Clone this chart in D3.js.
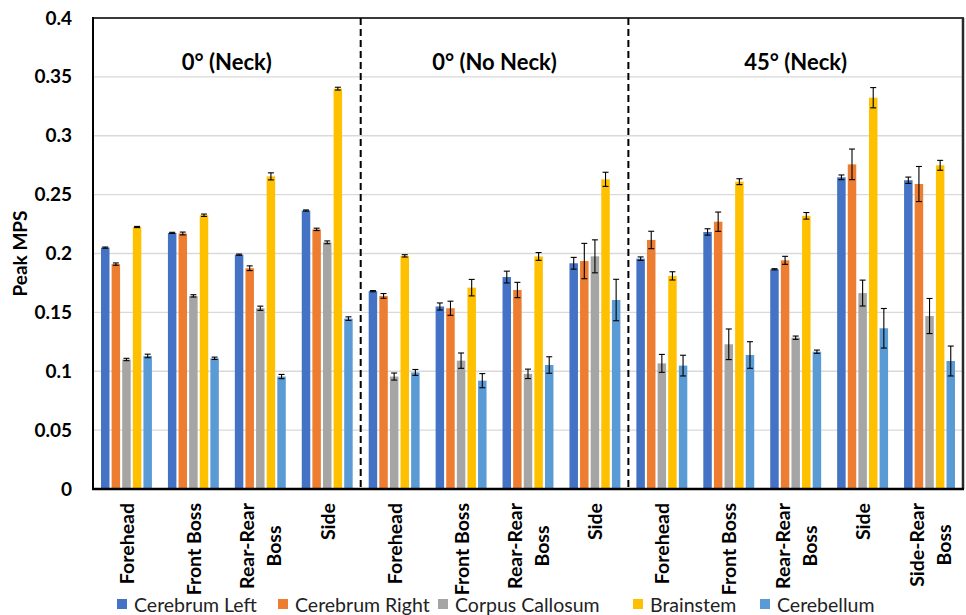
<!DOCTYPE html>
<html><head><meta charset="utf-8">
<script src="https://cdn.jsdelivr.net/npm/d3@7"></script>
<style>html,body{margin:0;padding:0;background:#fff;}svg{display:block;}</style>
</head><body><svg id="c" width="966" height="615"></svg>
<script>
const categories = ["Forehead","Front Boss","Rear-Rear\nBoss","Side",
  "Forehead","Front Boss","Rear-Rear\nBoss","Side",
  "Forehead","Front Boss","Rear-Rear\nBoss","Side","Side-Rear\nBoss"];
const groupTitles = ["0° (Neck)","0° (No Neck)","45° (Neck)"];
const groupSizes = [4,4,5];
const seriesNames = ["Cerebrum Left","Cerebrum Right","Corpus Callosum","Brainstem","Cerebellum"];
const seriesColors = ["#4472C4","#ED7D31","#A5A5A5","#FFC000","#5B9BD5"];
const yTicks = [0,0.05,0.1,0.15,0.2,0.25,0.3,0.35,0.4];
const yTickLabels = ["0","0.05","0.1","0.15","0.2","0.25","0.3","0.35","0.4"];

const cerebrumLeft   = [0.205,0.2175,0.199,0.2365, 0.168,0.155,0.180,0.1917, 0.1956,0.2183,0.1866,0.2647,0.2622];
const cerebrumRight  = [0.191,0.217,0.1875,0.2205, 0.164,0.1535,0.169,0.1936, 0.2115,0.227,0.1942,0.2757,0.259];
const corpusCallosum = [0.110,0.164,0.1535,0.2095, 0.0955,0.109,0.0978,0.1976, 0.1067,0.1229,0.1285,0.1664,0.1469];
const brainstem      = [0.2225,0.2325,0.2655,0.340, 0.198,0.171,0.1975,0.263, 0.181,0.261,0.232,0.3323,0.2749];
const cerebellum     = [0.113,0.111,0.0955,0.1447, 0.099,0.092,0.1053,0.1605, 0.1048,0.1138,0.1166,0.1365,0.1087];

const errLeft   = [0.0005,0.0005,0.0005,0.0005, 0.0005,0.003,0.005,0.005, 0.0015,0.0027,0.0005,0.002,0.0027];
const errRight  = [0.001,0.0012,0.002,0.001, 0.002,0.006,0.0065,0.015, 0.0074,0.0082,0.0034,0.013,0.0149];
const errCorpus = [0.001,0.001,0.0018,0.0012, 0.003,0.0065,0.004,0.014, 0.0076,0.013,0.0014,0.011,0.0149];
const errBrain  = [0.0005,0.001,0.003,0.0012, 0.001,0.007,0.0033,0.006, 0.0035,0.0025,0.0028,0.0086,0.0042];
const errCereb  = [0.0015,0.001,0.0018,0.0015, 0.0025,0.006,0.007,0.0176, 0.0088,0.0113,0.0014,0.0168,0.0127];

const seriesValues = [cerebrumLeft,cerebrumRight,corpusCallosum,brainstem,cerebellum];
const seriesErrors = [errLeft,errRight,errCorpus,errBrain,errCereb];

const svg = d3.select("#c");
const L = 93, R = 963, T = 18, B = 489;
const FONT = "Lato, 'Open Sans', sans-serif";

const x0 = d3.scaleBand().domain(d3.range(categories.length)).range([L,R]).padding(0);
const x1 = d3.scaleBand().domain(d3.range(seriesNames.length)).range([8, x0.bandwidth()-8]).paddingInner(0.2);
const y = d3.scaleLinear().domain([0,0.4]).range([B,T]);

// gridlines
svg.append("g").selectAll("line").data(yTicks.slice(1)).join("line")
  .attr("x1",L).attr("x2",R).attr("y1",d=>y(d)).attr("y2",d=>y(d))
  .attr("stroke","#d9d9d9").attr("stroke-width",1.3);

// y axis
const yAxis = d3.axisLeft(y).tickValues(yTicks).tickFormat((d,i)=>yTickLabels[i]).tickSize(0).tickPadding(21);
const ya = svg.append("g").attr("transform",`translate(${L},0)`).call(yAxis);
ya.select(".domain").remove();
ya.selectAll("text").attr("font-family",FONT).attr("font-weight","bold").attr("font-size",19).attr("fill","#000");

// bars
const flat = [];
categories.forEach((c,i)=>seriesNames.forEach((s,j)=>flat.push({i,j,v:seriesValues[j][i],e:seriesErrors[j][i]})));
svg.append("g").selectAll("rect").data(flat).join("rect")
  .attr("x",d=>x0(d.i)+x1(d.j)).attr("width",x1.bandwidth())
  .attr("y",d=>y(d.v)).attr("height",d=>B-y(d.v))
  .attr("fill",d=>seriesColors[d.j]);

// error bars
const eg = svg.append("g").attr("stroke","#000").attr("stroke-width",1.1);
flat.forEach(d=>{
  const cx = x0(d.i)+x1(d.j)+x1.bandwidth()/2;
  const y1 = y(d.v+d.e), y2 = y(d.v-d.e);
  eg.append("line").attr("x1",cx).attr("x2",cx).attr("y1",y1).attr("y2",y2);
  eg.append("line").attr("x1",cx-3).attr("x2",cx+3).attr("y1",y1).attr("y2",y1);
  eg.append("line").attr("x1",cx-3).attr("x2",cx+3).attr("y1",y2).attr("y2",y2);
});

// frame
svg.append("line").attr("x1",L).attr("x2",R+1).attr("y1",T).attr("y2",T).attr("stroke","#3a3a3a").attr("stroke-width",2);
svg.append("line").attr("x1",R).attr("x2",R).attr("y1",T).attr("y2",B).attr("stroke","#2a2a2a").attr("stroke-width",2.5);
svg.append("line").attr("x1",L).attr("x2",L).attr("y1",T-1).attr("y2",B+1).attr("stroke","#000").attr("stroke-width",2);
svg.append("line").attr("x1",L-1).attr("x2",R+1).attr("y1",B).attr("y2",B).attr("stroke","#000").attr("stroke-width",2.5);

// group separators and titles
let start = 0;
groupSizes.forEach((n,g)=>{
  const gx0 = x0(start), gx1 = start+n < categories.length ? x0(start+n) : R;
  if (g>0) svg.append("line").attr("x1",gx0).attr("x2",gx0).attr("y1",T).attr("y2",B)
    .attr("stroke","#000").attr("stroke-width",2).attr("stroke-dasharray","7,4");
  svg.append("text").attr("x",(gx0+gx1)/2).attr("y",70).attr("text-anchor","middle")
    .attr("font-family",FONT).attr("font-weight","bold").attr("font-size",22).text(groupTitles[g]);
  start += n;
});

// x labels (rotated, each line placed separately)
categories.forEach((c,i)=>{
  const lines = c.split("\n");
  const cx = x0(i)+x0.bandwidth()/2;
  const lh = 27;
  const widths = [];
  const tmp = lines.map(ln=>{
    const tt = svg.append("text").attr("font-family",FONT).attr("font-weight","bold").attr("font-size",19.5).text(ln);
    widths.push(tt.node().getComputedTextLength()); return tt;});
  const maxW = d3.max(widths);
  const top = B+14;
  tmp.forEach((tt,k)=>{
    const off = (k-(lines.length-1)/2)*lh;
    const centerY = top + maxW/2;
    tt.attr("text-anchor","middle").attr("dominant-baseline","central")
      .attr("transform",`translate(${cx+off},${centerY}) rotate(-90)`);
  });
});

// y title
svg.append("text").attr("transform",`translate(19,${(T+B)/2}) rotate(-90)`).attr("text-anchor","middle")
  .attr("dominant-baseline","central").attr("font-family",FONT).attr("font-weight","bold").attr("font-size",19).text("Peak MPS");

// legend
const legX = [117,278,438,633,760];
const lg = svg.append("g");
seriesNames.forEach((s,j)=>{
  lg.append("rect").attr("x",legX[j]).attr("y",599).attr("width",10).attr("height",10).attr("fill",seriesColors[j]);
  lg.append("text").attr("x",legX[j]+17).attr("y",604).attr("dominant-baseline","central")
    .attr("font-family",FONT).attr("font-size",19.5).attr("fill","#222").text(s);
});
</script></body></html>
